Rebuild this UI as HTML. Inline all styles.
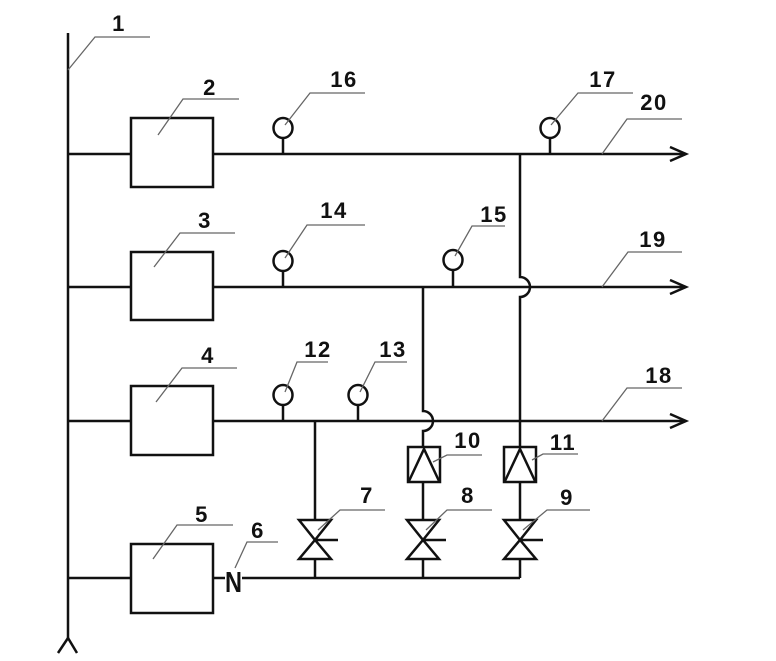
<!DOCTYPE html>
<html><head><meta charset="utf-8"><style>
html,body{margin:0;padding:0;background:#fff;}
svg{display:block;}
text{font-family:"Liberation Sans",Arial,sans-serif;font-weight:bold;font-size:22px;fill:#111;letter-spacing:1.5px;}
</style></head><body>
<svg width="776" height="661" viewBox="0 0 776 661" xmlns="http://www.w3.org/2000/svg">
<g fill="none" stroke="#111" stroke-width="2.5" stroke-linejoin="miter">
  <line x1="68" y1="33" x2="68" y2="638"/>
  <polyline points="58,653 68,638 77,653"/>
  <rect x="131" y="118" width="82" height="69"/>
  <rect x="131" y="252" width="82" height="68"/>
  <rect x="131" y="386" width="82" height="69"/>
  <rect x="131" y="544" width="82" height="69"/>
  <line x1="68" y1="154" x2="131" y2="154"/>
  <line x1="213" y1="154" x2="686" y2="154"/>
  <polyline points="670,147 686,154 670,161"/>
  <line x1="68" y1="287" x2="131" y2="287"/>
  <line x1="213" y1="287" x2="686" y2="287"/>
  <polyline points="670,280 686,287 670,294"/>
  <line x1="68" y1="421" x2="131" y2="421"/>
  <line x1="213" y1="421" x2="686" y2="421"/>
  <polyline points="670,414 686,421 670,428"/>
  <line x1="68" y1="578" x2="131" y2="578"/>
  <line x1="213" y1="578" x2="225" y2="578"/>
  <line x1="242" y1="578" x2="520" y2="578"/>
  <ellipse cx="283" cy="128" rx="9.5" ry="10"/><line x1="283" y1="138" x2="283" y2="154"/>
  <ellipse cx="550" cy="128" rx="9.5" ry="10"/><line x1="550" y1="138" x2="550" y2="154"/>
  <ellipse cx="283" cy="261" rx="9.5" ry="10"/><line x1="283" y1="271" x2="283" y2="287"/>
  <ellipse cx="453" cy="260" rx="9.5" ry="10"/><line x1="453" y1="270" x2="453" y2="287"/>
  <ellipse cx="283" cy="395" rx="9.5" ry="10"/><line x1="283" y1="405" x2="283" y2="421"/>
  <ellipse cx="358" cy="395" rx="9.5" ry="10"/><line x1="358" y1="405" x2="358" y2="421"/>
  <line x1="315" y1="421" x2="315" y2="520"/>
  <line x1="315" y1="559" x2="315" y2="578"/>
  <path d="M423,287 L423,411 A10,10 0 0 1 423,431 L423,447"/>
  <rect x="408" y="447" width="32" height="35"/>
  <polyline points="409,481 424,449 439,481"/>
  <line x1="423" y1="482" x2="423" y2="520"/>
  <line x1="423" y1="559" x2="423" y2="578"/>
  <path d="M520,154 L520,277 A10,10 0 0 1 520,297 L520,447"/>
  <rect x="504" y="447" width="32" height="35"/>
  <polyline points="505,481 520,449 535,481"/>
  <line x1="520" y1="482" x2="520" y2="520"/>
  <line x1="520" y1="559" x2="520" y2="578"/>
  <path d="M299,520 L331,520 L315,540 Z M299,559 L331,559 L315,540 Z M315,540 L338,540"/>
  <path d="M407,520 L439,520 L423,540 Z M407,559 L439,559 L423,540 Z M423,540 L446,540"/>
  <path d="M504,520 L536,520 L520,540 Z M504,559 L536,559 L520,540 Z M520,540 L543,540"/>
</g>
<g fill="none" stroke="#666" stroke-width="1.3">
  <polyline points="68,70 95,37 150,37"/>
  <polyline points="158,135 183,99 239,99"/>
  <polyline points="285,125 310,93 365,93"/>
  <polyline points="551,125 578,93 633,93"/>
  <polyline points="602,154 627,119 682,119"/>
  <polyline points="154,267 180,233 235,233"/>
  <polyline points="285,258 307,225 365,225"/>
  <polyline points="455,256 472,226 505,226"/>
  <polyline points="602,287 628,252 682,252"/>
  <polyline points="156,402 182,368 237,368"/>
  <polyline points="285,392 297,362 328,362"/>
  <polyline points="360,392 375,362 407,362"/>
  <polyline points="602,421 627,388 682,388"/>
  <polyline points="433,462 447,455 482,455"/>
  <polyline points="532,460 543,454 578,454"/>
  <polyline points="318,530 340,510 385,510"/>
  <polyline points="426,530 447,510 492,510"/>
  <polyline points="523,530 547,510 590,510"/>
  <polyline points="153,559 177,525 233,525"/>
  <polyline points="235,568 247,542 278,542"/>
</g>
<g text-anchor="middle">
  <text x="119" y="31">1</text>
  <text x="210" y="95">2</text>
  <text x="205" y="228">3</text>
  <text x="208" y="363">4</text>
  <text x="202" y="522">5</text>
  <text x="258" y="538">6</text>
  <text x="367" y="503">7</text>
  <text x="468" y="503">8</text>
  <text x="567" y="505">9</text>
  <text x="468" y="448">10</text>
  <text x="563" y="450">11</text>
  <text x="318" y="357">12</text>
  <text x="393" y="357">13</text>
  <text x="334" y="218">14</text>
  <text x="494" y="222">15</text>
  <text x="344" y="87">16</text>
  <text x="603" y="87">17</text>
  <text x="659" y="383">18</text>
  <text x="653" y="247">19</text>
  <text x="654" y="110">20</text>
</g>
<text x="225" y="592" textLength="17" lengthAdjust="spacingAndGlyphs" style="font-size:29px;letter-spacing:0">N</text>
</svg>
</body></html>
